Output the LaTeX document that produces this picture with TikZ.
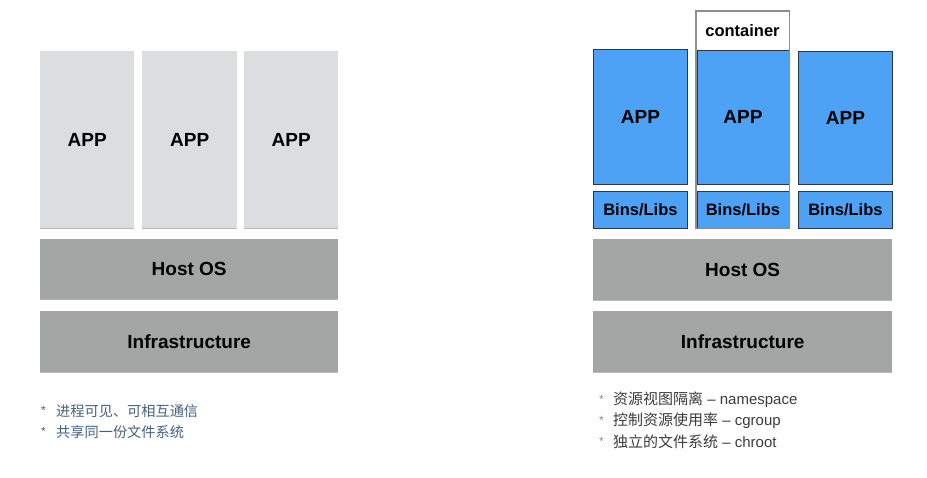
\documentclass[tikz,border=0pt]{standalone}
\usepackage{fontspec}
\setmainfont{Liberation Sans}
\newfontfamily\cjk{Noto Sans CJK SC}
\usetikzlibrary{shadows}
\definecolor{appgray}{HTML}{DCDDDE}
\definecolor{osgray}{HTML}{A4A6A5}
\definecolor{appblue}{HTML}{4DA2F6}
\definecolor{edgedark}{HTML}{2C3845}
\definecolor{contgray}{HTML}{8E8E8E}
\definecolor{notesblue}{HTML}{46617F}
\definecolor{notesdark}{HTML}{3C3C3C}
\newcommand{\lat}[1]{{\rmfamily #1}}
\begin{document}
\begin{tikzpicture}[x=1pt,y=-1pt,
  blk/.style={rectangle, inner sep=0pt, anchor=north west, text=black,
    font=\fontsize{19}{22}\selectfont\bfseries},
  graybox/.style={blk, fill=#1, general shadow={fill=black!28, shadow yshift=-1.3pt}},
  bluebox/.style={blk, fill=appblue, draw=edgedark, line width=0.8pt},
  small/.style={font=\fontsize{16.5}{19}\selectfont\bfseries},
  noteL/.style={anchor=west, inner sep=0pt, text=notesblue, font=\cjk\fontsize{14.2}{16}\selectfont},
  noteR/.style={anchor=west, inner sep=0pt, text=notesdark, font=\cjk\fontsize{15}{17}\selectfont},
  bulL/.style={anchor=west, inner sep=0pt, text=notesblue, font=\fontsize{12}{14}\selectfont},
  bulR/.style={anchor=west, inner sep=0pt, text=black!45, font=\fontsize{12}{14}\selectfont}
]
\useasboundingbox (0,0) rectangle (927,478);
\fill[white] (0,0) rectangle (927,478);

% ---------- left stack ----------
\node[graybox=appgray, minimum width=94pt, minimum height=177pt] (appL1) at (40,51) {APP};
\node[graybox=appgray, minimum width=95pt, minimum height=177pt] (appL2) at (142,51) {APP};
\node[graybox=appgray, minimum width=94pt, minimum height=177pt] (appL3) at (244,51) {APP};
\node[graybox=osgray, minimum width=298pt, minimum height=60pt] (osL) at (40,239) {Host OS};
\node[graybox=osgray, minimum width=298pt, minimum height=61pt] (infraL) at (40,311) {Infrastructure};

\node[bulL] (bl1) at (41,410) {*};
\node[noteL] (nl1) at (56,411) {进程可见、可相互通信};
\node[bulL] (bl2) at (41,431) {*};
\node[noteL] (nl2) at (56,432) {共享同一份文件系统};

% ---------- right stack ----------
\node[bluebox, minimum width=94pt, minimum height=135pt] (appR1) at (593,49) {APP};
\node[bluebox, small, minimum width=94pt, minimum height=37pt] (binsR1) at (593,191) {Bins/Libs};

\node[blk, fill=white, minimum width=93pt, minimum height=217pt] (cont) at (696,11) {};
\node[small, inner sep=0pt] (contlbl) at (742.5,31) {container};
\node[bluebox, minimum width=92pt, minimum height=134pt] (appR2) at (696.5,50) {APP};
\node[bluebox, small, minimum width=92pt, minimum height=37pt] (binsR2) at (696.5,191) {Bins/Libs};
\draw[contgray, line width=1.6pt] (cont.north west) rectangle (cont.south east);

\node[bluebox, minimum width=94pt, minimum height=133pt] (appR3) at (798,51) {APP};
\node[bluebox, small, minimum width=94pt, minimum height=37pt] (binsR3) at (798,191) {Bins/Libs};

\node[graybox=osgray, minimum width=299pt, minimum height=61pt] (osR) at (593,239) {Host OS};
\node[graybox=osgray, minimum width=299pt, minimum height=61pt] (infraR) at (593,311) {Infrastructure};

\node[bulR] (br1) at (599,399) {*};
\node[noteR] (nr1) at (613,400) {资源视图隔离\lat{ – namespace}};
\node[bulR] (br2) at (599,420) {*};
\node[noteR] (nr2) at (613,421) {控制资源使用率\lat{ – cgroup}};
\node[bulR] (br3) at (599,441) {*};
\node[noteR] (nr3) at (613,442) {独立的文件系统\lat{ – chroot}};
\end{tikzpicture}
\end{document}
